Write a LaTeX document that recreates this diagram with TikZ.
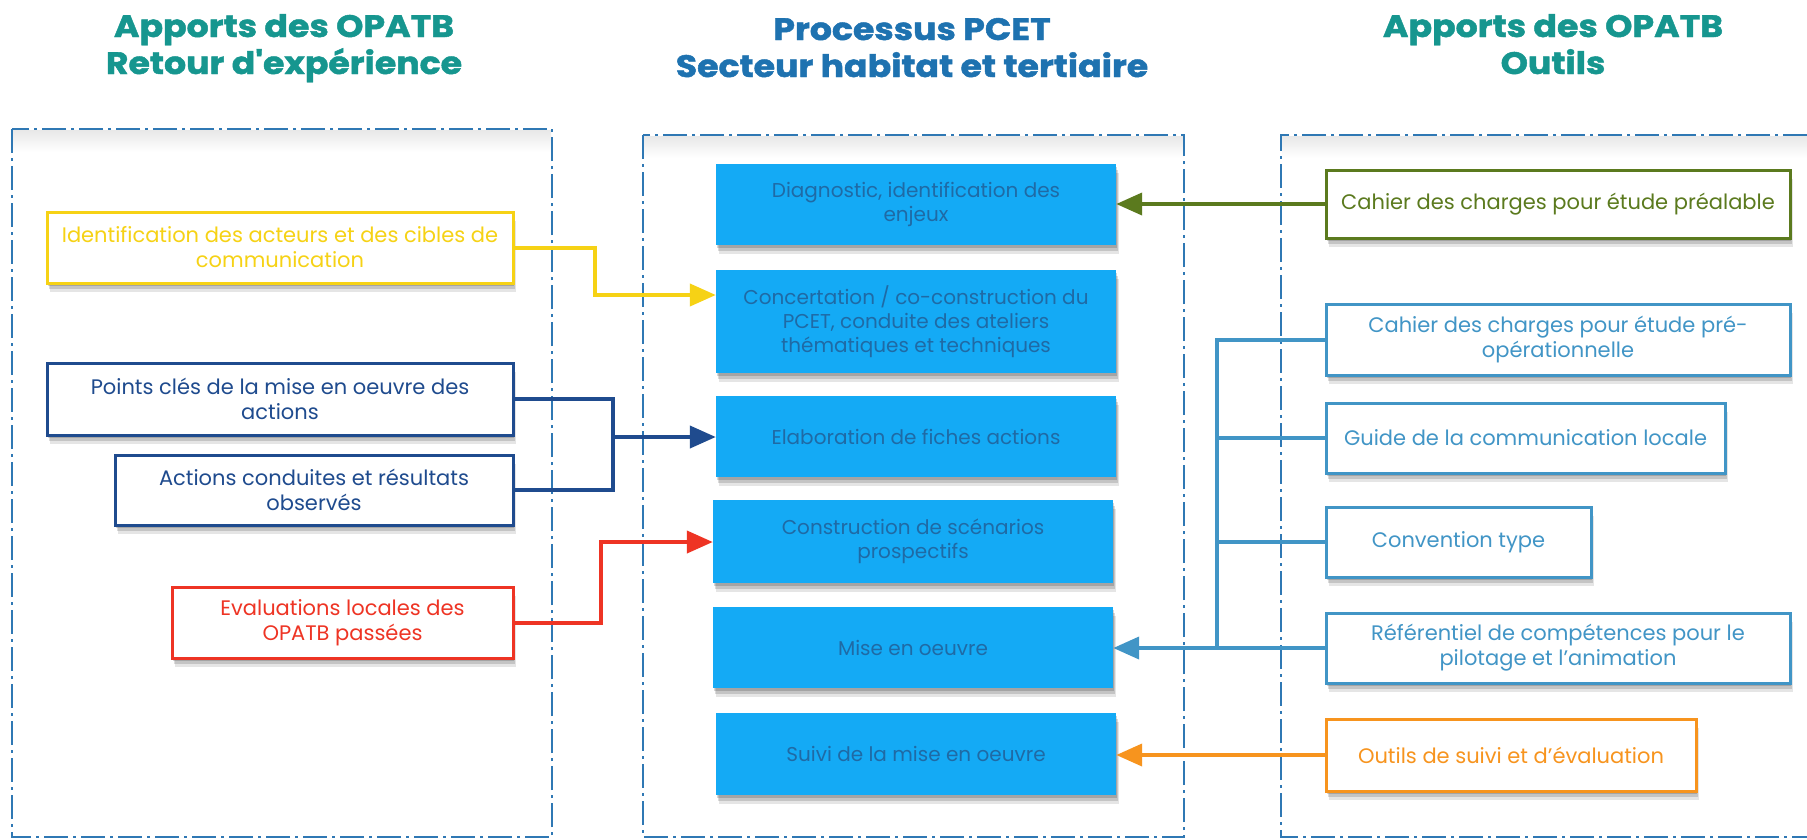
\documentclass[tikz,border=0pt]{standalone}
\usepackage{fontspec}
\setmainfont{Poppins}
\newfontfamily\titlefont[FakeStretch=1.12, BoldFeatures={FakeBold=1.5}]{Poppins}
\usetikzlibrary{arrows.meta,shadows,calc}
\definecolor{teal}{HTML}{16968F}
\definecolor{ctitle}{HTML}{1E72B0}
\definecolor{frameblue}{HTML}{2F78B4}
\definecolor{cfill}{HTML}{14AAF5}
\definecolor{ctext}{HTML}{1F6AA5}
\definecolor{yel}{HTML}{F6D215}
\definecolor{navy}{HTML}{1F4B8E}
\definecolor{redc}{HTML}{EE3424}
\definecolor{olive}{HTML}{5B7A1E}
\definecolor{lblue}{HTML}{4195C6}
\definecolor{orangec}{HTML}{F7941E}
\begin{document}
\begin{tikzpicture}[x=1pt,y=-1pt,
  frame/.style={draw=frameblue, line width=2pt, dash pattern=on 24pt off 5pt on 3pt off 5pt},
  softshadow/.style={drop shadow={shadow xshift=1pt,shadow yshift=-3pt,opacity=.16,fill=black},
                     drop shadow={shadow xshift=2pt,shadow yshift=-6pt,opacity=.14,fill=black},
                     drop shadow={shadow xshift=3pt,shadow yshift=-9pt,opacity=.10,fill=black}},
  bodyfont/.style={font=\fontsize{21}{25}\selectfont},
  cbox/.style={fill=cfill, draw=none, minimum width=400pt, minimum height=81pt, text=ctext, font=\fontsize{20}{24}\selectfont, align=center, softshadow, inner sep=0pt},
  obox/.style={fill=white, line width=3pt, align=center, bodyfont, softshadow, inner sep=0pt},
  title/.style={font=\titlefont\bfseries\fontsize{31}{37}\selectfont, align=center, anchor=base},
  conn/.style={line width=4pt},
  arr/.style={conn, -{Triangle[length=26pt,width=22pt]}}
]
\useasboundingbox (0,0) rectangle (1807,839);
\fill[white] (0,0) rectangle (1807,839);

% frames with faint inner shading
\shade[top color=black!9, bottom color=white] (13,130) rectangle (551,152);
\shade[top color=black!9, bottom color=white] (644,136) rectangle (1183,158);
\shade[top color=black!9, bottom color=white] (1282,136) rectangle (1807,158);
\draw[frame] (12,129) rectangle (552,837);
\draw[frame] (643,135) rectangle (1184,837);
\draw[frame] (1807,135) -- (1281,135) -- (1281,837) -- (1807,837);

% titles (anchor base = last line)
\node[title, text=teal] (tl) at (284,74) {Apports des OPATB\\Retour d'expérience};
\node[title, text=ctitle] (tc) at (912,77) {Processus PCET\\Secteur habitat et tertiaire};
\node[title, text=teal] (tr) at (1553,74) {Apports des OPATB\\Outils};

% center boxes
\node[cbox] (c1) at (916,204.5) {Diagnostic, identification des\\enjeux};
\node[cbox, minimum height=103pt] (c2) at (916,321.5) {Concertation / co-construction du\\PCET, conduite des ateliers\\thématiques et techniques};
\node[cbox] (c3) at (916,436.5) {Elaboration de fiches actions};
\node[cbox, minimum height=83pt] (c4) at (913,541.5) {Construction de scénarios\\prospectifs};
\node[cbox] (c5) at (913,647.5) {Mise en oeuvre};
\node[cbox, minimum height=82pt] (c6) at (916,754) {Suivi de la mise en oeuvre};

% left boxes
\node[obox, draw=yel, text=yel, minimum width=466pt, minimum height=71pt] (yb) at (280,247.5) {Identification des acteurs et des cibles de\\communication};
\node[obox, draw=navy, text=navy, minimum width=466pt, minimum height=72pt] (n1) at (280,399) {Points clés de la mise en oeuvre des\\actions};
\node[obox, draw=navy, text=navy, minimum width=398pt, minimum height=70pt] (n2) at (314,490) {Actions conduites et résultats\\observés};
\node[obox, draw=redc, text=redc, minimum width=341pt, minimum height=71pt] (rb) at (342.5,622.5) {Evaluations locales des\\OPATB passées};

% right boxes
\node[obox, draw=olive, text=olive, minimum width=464pt, minimum height=68pt] (ob) at (1558,204) {Cahier des charges pour étude préalable};
\node[obox, draw=lblue, text=lblue, minimum width=464pt, minimum height=71pt] (p1) at (1558,339.5) {Cahier des charges pour étude pré-\\opérationnelle};
\node[obox, draw=lblue, text=lblue, minimum width=399pt, minimum height=70pt] (g) at (1525.5,438) {Guide de la communication locale};
\node[obox, draw=lblue, text=lblue, minimum width=265pt, minimum height=70pt] (cv) at (1458.5,542) {Convention type};
\node[obox, draw=lblue, text=lblue, minimum width=464pt, minimum height=70pt] (rf) at (1558,648) {Référentiel de compétences pour le\\pilotage et l'animation};
\node[obox, draw=orangec, text=orangec, minimum width=370pt, minimum height=72pt] (orb) at (1511,755) {Outils de suivi et d'évaluation};

% connectors
\coordinate (yk) at (595,295);
\draw[arr, draw=yel] (yb.east) -| (yk) -- (yk -| c2.west);

\coordinate (nk) at (613,437);
\draw[conn, draw=navy] (n1.east) -| (nk) |- (n2.east);
\draw[arr, draw=navy] (nk) -- (nk -| c3.west);

\coordinate (rk) at (601,542);
\draw[arr, draw=redc] (rb.east) -| (rk) -- (rk -| c4.west);

\draw[arr, draw=olive] (ob.west) -- (ob.west -| c1.east);

\coordinate (bt) at (1217,339.5);
\coordinate (bb) at (bt |- rf.west);
\draw[conn, draw=lblue] (p1.west) -- (bt) -- (bb);
\draw[conn, draw=lblue] (g.west) -- (g.west -| bt);
\draw[conn, draw=lblue] (cv.west) -- (cv.west -| bt);
\draw[arr, draw=lblue] (rf.west) -- (rf.west -| c5.east);

\draw[arr, draw=orangec] (orb.west) -- (orb.west -| c6.east);
\end{tikzpicture}
\end{document}
